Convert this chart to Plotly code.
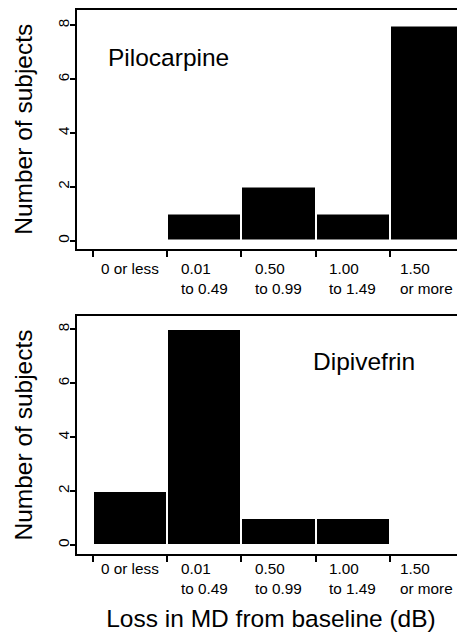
import plotly.graph_objects as go

bins = ["0 or less", "0.01<br>to 0.49", "0.50<br>to 0.99", "1.00<br>to 1.49", "1.50<br>or more"]
pilocarpine = [0, 1, 2, 1, 8]
dipivefrin = [2, 8, 1, 1, 0]
y_ticks = [0, 2, 4, 6, 8]
panel_names = ["Pilocarpine", "Dipivefrin"]

# page body has an 8px margin: the figure is drawn 8px in from the window corner
OFF = 8
W, H = 465 - OFF, 637 - OFF
FONT = "Liberation Sans, Arial, sans-serif"
xpos = list(range(len(bins)))
edges = [i - 0.5 for i in range(len(bins) + 1)]


def py(px):
    return 1 - (px - OFF) / H


def pxx(px):
    return (px - OFF) / W


fig = go.Figure()
fig.add_trace(go.Bar(x=xpos, y=pilocarpine, width=1, marker=dict(color="black", line=dict(color="white", width=2)),
                     xaxis="x", yaxis="y", showlegend=False))
fig.add_trace(go.Bar(x=xpos, y=dipivefrin, width=1, marker=dict(color="black", line=dict(color="white", width=2)),
                     xaxis="x2", yaxis="y2", showlegend=False))

xcommon = dict(range=[-0.716, 4.514], tickvals=edges, ticktext=[""] * len(edges), ticks="outside", ticklen=6,
               tickwidth=1.5, tickcolor="black", showline=True, linecolor="black", linewidth=2, mirror=True,
               showgrid=False, zeroline=False, automargin=False, domain=[pxx(77), 1])
ycommon = dict(tickvals=y_ticks, ticks="outside", ticklen=5, tickwidth=1.5, tickcolor="black", tickangle=-90,
               ticklabelstandoff=-5,
               showline=True, linecolor="black", linewidth=2, showgrid=False, zeroline=False, automargin=False,
               tickfont=dict(size=15.3, color="black", family=FONT),
               title=dict(text="Number of subjects", font=dict(size=24.5, color="black", family=FONT), standoff=15))

fig.update_layout(
    width=W, height=H, margin=dict(l=0, r=0, t=0, b=0), paper_bgcolor="white", plot_bgcolor="white",
    font=dict(family=FONT, color="black"), bargap=0,
    xaxis=dict(**xcommon, anchor="y"),
    yaxis=dict(**ycommon, range=[-0.31, 8.59], domain=[py(249), py(9.5)], anchor="x"),
    xaxis2=dict(**xcommon, anchor="y2",
                title=dict(text="Loss in MD from baseline (dB)", font=dict(size=24.5, color="black", family=FONT),
                           standoff=46)),
    yaxis2=dict(**ycommon, range=[-0.33, 8.49], domain=[py(554), py(316)], anchor="x2"),
)

annos = []
for xr, ytop in [("x", 258), ("x2", 558)]:
    for i, lab in enumerate(bins):
        annos.append(dict(x=xpos[i], xref=xr, y=py(ytop), yref="paper", text=lab, showarrow=False,
                          xanchor="center", yanchor="top", align="left",
                          font=dict(size=15.3, color="black", family=FONT)))
annos.append(dict(x=-0.33, xref="x", y=6.79, yref="y", text=panel_names[0], showarrow=False, xanchor="left",
                  yanchor="middle", font=dict(size=24.5, color="black", family=FONT)))
annos.append(dict(x=2.44, xref="x2", y=6.79, yref="y2", text=panel_names[1], showarrow=False, xanchor="left",
                  yanchor="middle", font=dict(size=24.5, color="black", family=FONT)))
fig.update_layout(annotations=annos)

fig.write_html("out.html")
